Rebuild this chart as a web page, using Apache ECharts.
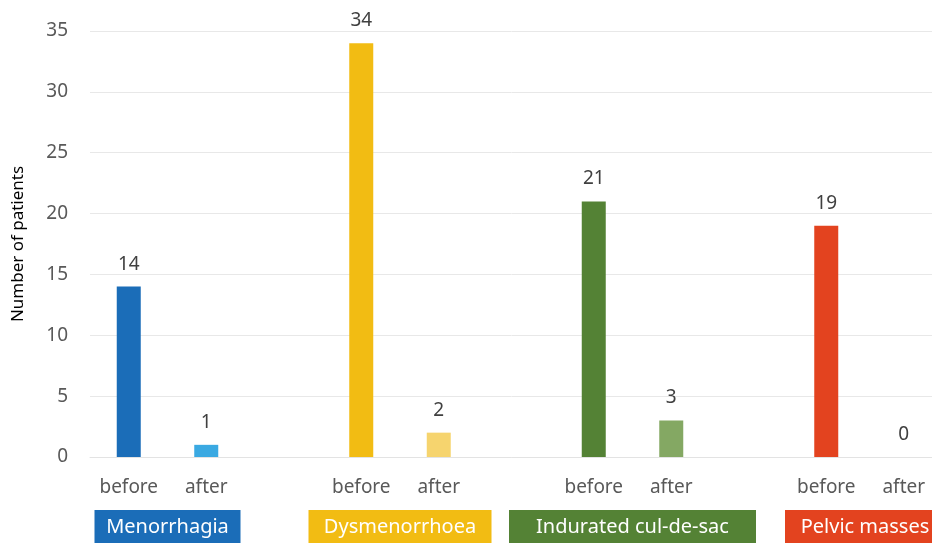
<!DOCTYPE html>
<html>
<head>
<meta charset="utf-8">
<script src="https://cdn.jsdelivr.net/npm/echarts@6/dist/echarts.min.js"></script>
<style>html,body{margin:0;padding:0;background:#fff}#c{width:932px;height:543px}</style>
</head>
<body>
<div id="c"></div>
<script>
// ---- data ----
var groups = ['Menorrhagia', 'Dysmenorrhoea', 'Indurated cul-de-sac', 'Pelvic masses'];
var beforeValues = [14, 34, 21, 19];
var afterValues = [1, 2, 3, 0];
var beforeColors = ['#1b6db8', '#f2bc13', '#548235', '#e3431f'];
var afterColors = ['#3aa9e2', '#f6d46e', '#84a863', '#e3431f'];
var boxColors = ['#1b6db8', '#f2bc13', '#548235', '#e3431f'];
var boxWidths = [146, 183, 247, 160];
var slotLabels = ['before', 'after'];
var yTicks = [0, 5, 10, 15, 20, 25, 30, 35];

// build slot categories: before, after, gap, ...
var cats = [], barData = [];
groups.forEach(function (g, i) {
  cats.push(slotLabels[0]);
  barData.push({ value: beforeValues[i], itemStyle: { color: beforeColors[i] } });
  cats.push(slotLabels[1]);
  barData.push({ value: afterValues[i], itemStyle: { color: afterColors[i] } });
  if (i < groups.length - 1) { cats.push(''); barData.push('-'); }
});
// group label axis (boundary positions)
var groupCats = [], rich = {};
for (var k = 0; k <= cats.length; k++) groupCats.push('');
groups.forEach(function (g, i) {
  groupCats[1 + 3 * i] = '{g' + i + '|' + g + '}';
  rich['g' + i] = {
    backgroundColor: boxColors[i], color: '#ffffff', fontSize: 20,
    width: boxWidths[i], height: 34, lineHeight: 34, align: 'center',
    fontFamily: 'Noto Sans'
  };
});

var chart = echarts.init(document.getElementById('c'));
chart.setOption({
  animation: false,
  grid: { left: 90, top: 31, height: 426, width: 852.5, outerBoundsMode: 'none' },
  xAxis: [{
    type: 'category', data: cats, boundaryGap: true,
    axisLine: { show: true, lineStyle: { color: '#e3e3e3' } },
    axisTick: { show: false },
    axisLabel: { interval: 0, color: '#595959', fontSize: 19, margin: 21, fontFamily: 'Noto Sans' }
  }, {
    type: 'category', data: groupCats, boundaryGap: false, position: 'bottom',
    axisLine: { show: false }, axisTick: { show: false },
    axisLabel: { interval: 0, margin: 53, rich: rich, formatter: function (v) { return v; } }
  }],
  yAxis: {
    type: 'value', min: 0, max: 35, interval: 5,
    name: 'Number of patients', nameLocation: 'middle', nameGap: 63, nameRotate: 90,
    nameTextStyle: { color: '#000', fontSize: 17, fontFamily: 'Noto Sans' },
    axisLine: { show: false }, axisTick: { show: false },
    axisLabel: { color: '#595959', fontSize: 19, margin: 22, fontFamily: 'Noto Sans',
      customValues: yTicks },
    splitLine: { lineStyle: { color: '#e8e8e8' } }
  },
  series: [{
    type: 'bar', xAxisIndex: 0, data: barData, barWidth: 24,
    label: { show: true, position: 'top', distance: 13, color: '#404040', fontSize: 19, fontFamily: 'Noto Sans' }
  }]
});
</script>
</body>
</html>
